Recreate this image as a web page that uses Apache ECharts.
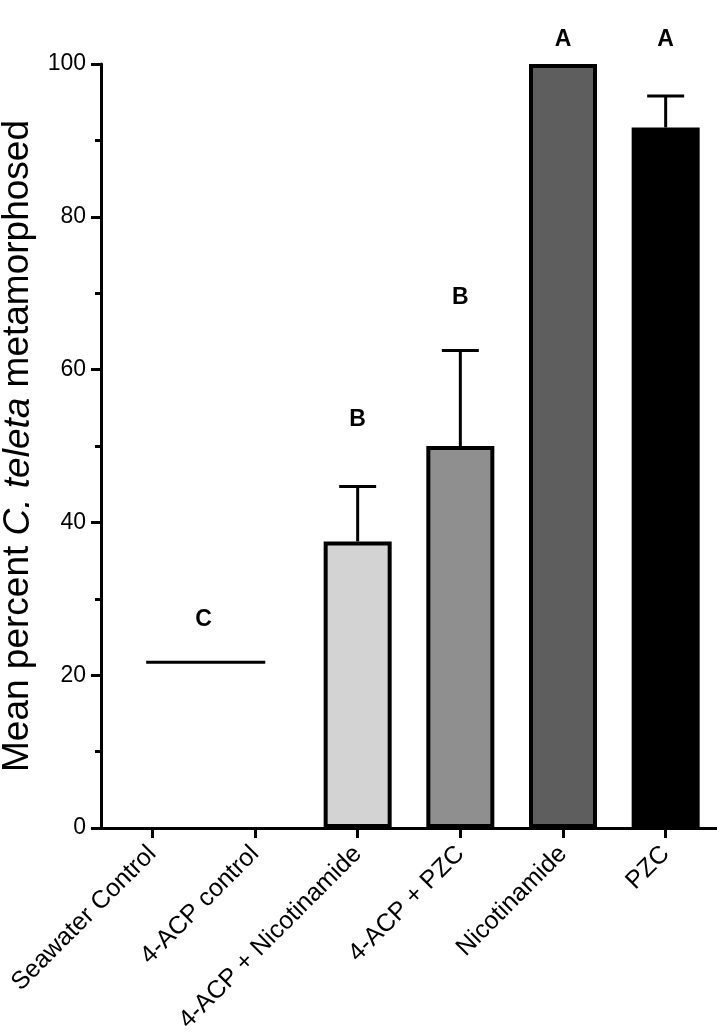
<!DOCTYPE html>
<html><head><meta charset="utf-8">
<script src="https://cdn.jsdelivr.net/npm/echarts@6/dist/echarts.min.js"></script>
<style>html,body{margin:0;padding:0;background:#fff}#c{width:717px;height:1034px}</style>
</head><body><div id="c"></div>
<script>
const categories = ['Seawater Control', '4-ACP control', '4-ACP + Nicotinamide', '4-ACP + PZC', 'Nicotinamide', 'PZC'];
const meanValues = [0, 0, 37.5, 50, 100, 91.7];
const errorUpper = [null, null, 44.7, 62.5, null, 95.8];
const barColors = ['#ffffff', '#ffffff', '#d3d3d3', '#8f8f8f', '#5e5e5e', '#000000'];
const controlLine = [[0, 1, 21.7]];
const letterStart = [0, 2, 3, 4, 5];
const letterEnd = [1, 2, 3, 4, 5];
const letterY = [27.3, 53.5, 69.4, 103.2, 103.2];
const letterText = ['C', 'B', 'B', 'A', 'A'];
const yMin = 0, yMax = 100, yInterval = 20;

const FONT = 'Liberation Sans, Arial, sans-serif';

const barData = meanValues.map((v, i) => ({
  value: v,
  itemStyle: { color: barColors[i], borderWidth: v === 0 ? 0 : 4 }
}));
const errData = [];
errorUpper.forEach((u, i) => { if (u !== null) errData.push([i, meanValues[i], u]); });
const letterData = letterText.map((t, i) => [letterStart[i], letterEnd[i], letterY[i], t]);

const chart = echarts.init(document.getElementById('c'), null, { renderer: 'canvas' });
chart.setOption({
  animation: false,
  backgroundColor: '#fff',
  grid: { left: 101, right: 0, top: 64, bottom: 206, containLabel: false, outerBoundsMode: 'none' },
  xAxis: {
    type: 'category',
    data: categories,
    axisLine: { lineStyle: { color: '#000', width: 3 } },
    axisTick: { show: true, alignWithLabel: true, length: 10, lineStyle: { color: '#000', width: 3 } },
    axisLabel: { rotate: 45, margin: 22, verticalAlign: 'middle', fontSize: 25, color: '#000', fontFamily: FONT, interval: 0 }
  },
  yAxis: {
    type: 'value',
    min: yMin, max: yMax, interval: yInterval,
    name: '{n|Mean percent }{i|C. teleta}{n| metamorphosed}',
    nameLocation: 'middle',
    nameGap: 55,
    nameTextStyle: {
      color: '#000', fontFamily: FONT, fontSize: 37,
      rich: {
        n: { fontFamily: FONT, fontSize: 37, color: '#000' },
        i: { fontFamily: FONT, fontSize: 37, color: '#000', fontStyle: 'italic' }
      }
    },
    axisLine: { show: true, lineStyle: { color: '#000', width: 3 } },
    axisTick: { show: true, length: 10, lineStyle: { color: '#000', width: 3 } },
    minorTick: { show: true, splitNumber: 2, length: 6, lineStyle: { color: '#000', width: 3 } },
    splitLine: { show: false },
    axisLabel: { fontSize: 23, color: '#000', fontFamily: FONT, margin: 15 }
  },
  series: [
    {
      type: 'bar',
      data: barData,
      barWidth: 68,
      itemStyle: { borderColor: '#000' },
      z: 2
    },
    {
      type: 'custom',
      data: errData,
      encode: { x: 0, y: [1, 2] },
      clip: false,
      z: 3,
      renderItem: function (params, api) {
        const x = api.value(0);
        const p0 = api.coord([x, api.value(1)]);
        const p1 = api.coord([x, api.value(2)]);
        const half = api.size([1, 0])[0] * 0.18;
        return {
          type: 'group',
          children: [
            { type: 'line', shape: { x1: p0[0], y1: p0[1], x2: p1[0], y2: p1[1] }, style: { stroke: '#000', lineWidth: 3 } },
            { type: 'line', shape: { x1: p1[0] - half, y1: p1[1], x2: p1[0] + half, y2: p1[1] }, style: { stroke: '#000', lineWidth: 3 } }
          ]
        };
      }
    },
    {
      type: 'custom',
      data: controlLine,
      encode: { x: [0, 1], y: 2 },
      clip: false,
      z: 3,
      renderItem: function (params, api) {
        const a = api.coord([api.value(0), api.value(2)]);
        const b = api.coord([api.value(1), api.value(2)]);
        const band = api.size([1, 0])[0];
        return { type: 'line', shape: { x1: a[0] - band * 0.06, y1: a[1], x2: b[0] + band * 0.1, y2: b[1] }, style: { stroke: '#000', lineWidth: 3 } };
      }
    },
    {
      type: 'custom',
      data: letterData,
      encode: { x: [0, 1], y: 2 },
      clip: false,
      z: 4,
      renderItem: function (params, api) {
        const a = api.coord([api.value(0), api.value(2)]);
        const b = api.coord([api.value(1), api.value(2)]);
        return {
          type: 'text',
          style: {
            x: (a[0] + b[0]) / 2, y: a[1],
            text: letterText[params.dataIndex],
            fill: '#000', font: 'bold 23px ' + FONT,
            align: 'center', verticalAlign: 'middle'
          }
        };
      }
    }
  ]
});
</script>
</body></html>
